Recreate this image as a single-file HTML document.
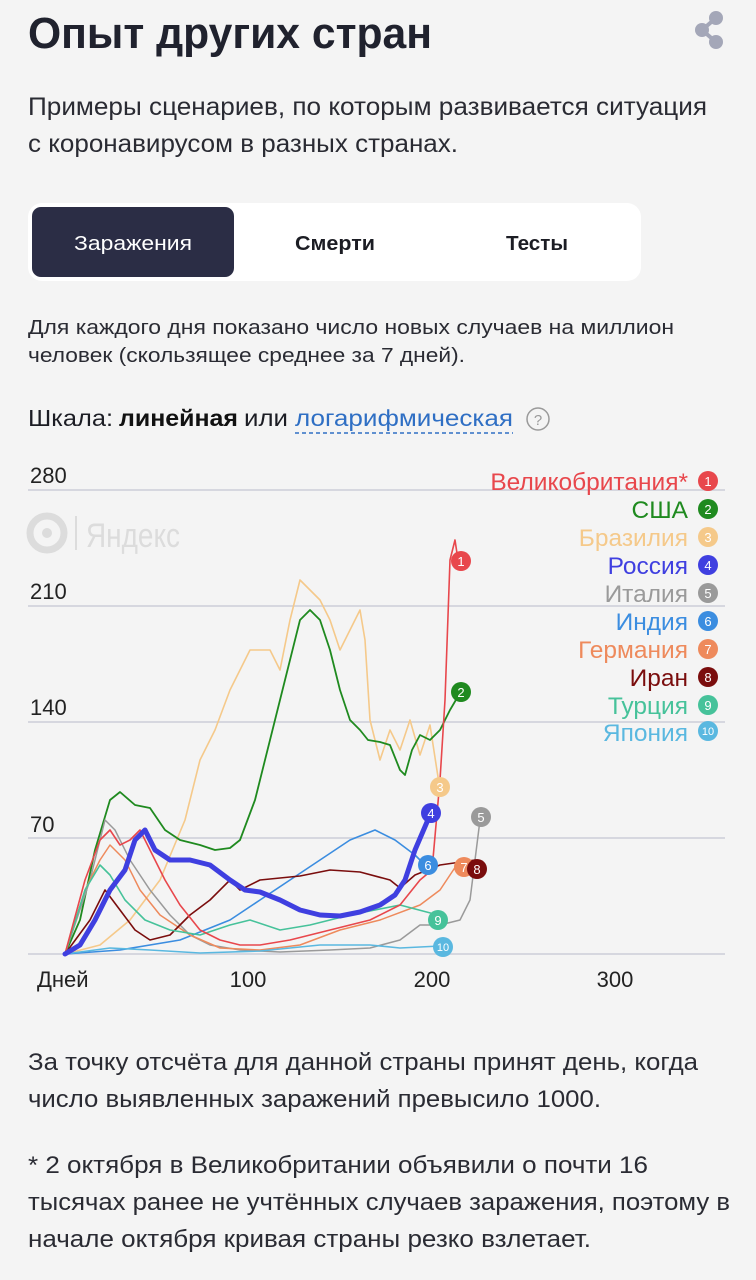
<!DOCTYPE html>
<html><head><meta charset="utf-8"><style>
html,body{margin:0;padding:0;background:#f4f4f4;}
svg{display:block;font-family:"Liberation Sans",sans-serif;}
</style></head><body>
<svg width="756" height="1280" viewBox="0 0 756 1280" xmlns="http://www.w3.org/2000/svg">
<rect width="756" height="1280" fill="#f4f4f4"/>
<text x="28" y="48" font-size="44" font-weight="bold" fill="#20222e" textLength="404" lengthAdjust="spacingAndGlyphs">Опыт других стран</text>
<g fill="#a4a7b8"><circle cx="716" cy="18" r="7"/><circle cx="702" cy="30" r="7"/><circle cx="716" cy="42" r="7"/></g>
<path d="M716 18 L702 30 L716 42" stroke="#a4a7b8" stroke-width="4" fill="none"/>
<g font-size="25" fill="#2a2b33">
<text x="28" y="115" textLength="679" lengthAdjust="spacingAndGlyphs">Примеры сценариев, по которым развивается ситуация</text>
<text x="28" y="152" textLength="430" lengthAdjust="spacingAndGlyphs">с коронавирусом в разных странах.</text>
</g>
<rect x="28" y="203" width="613" height="78" rx="14" fill="#fff"/>
<rect x="32" y="207" width="202" height="70" rx="9" fill="#2b2d45"/>
<g font-size="20" text-anchor="middle">
<text x="133" y="250" fill="#fff" textLength="118" lengthAdjust="spacingAndGlyphs">Заражения</text>
<text x="335" y="250" fill="#1c1d24" font-weight="bold" textLength="80" lengthAdjust="spacingAndGlyphs">Смерти</text>
<text x="537" y="250" fill="#1c1d24" font-weight="bold" textLength="62" lengthAdjust="spacingAndGlyphs">Тесты</text>
</g>
<g font-size="20" fill="#2a2b33">
<text x="28" y="334" textLength="646" lengthAdjust="spacingAndGlyphs">Для каждого дня показано число новых случаев на миллион</text>
<text x="28" y="362" textLength="437" lengthAdjust="spacingAndGlyphs">человек (скользящее среднее за 7 дней).</text>
</g>
<g font-size="23">
<text x="28" y="426" fill="#1c1d24" textLength="85" lengthAdjust="spacingAndGlyphs">Шкала:</text>
<text x="119" y="426" fill="#111" font-weight="bold" textLength="119" lengthAdjust="spacingAndGlyphs">линейная</text>
<text x="244" y="426" fill="#1c1d24" textLength="44" lengthAdjust="spacingAndGlyphs">или</text>
<text x="295" y="426" fill="#2f6fc4" textLength="218" lengthAdjust="spacingAndGlyphs">логарифмическая</text>
</g>
<line x1="295" y1="433" x2="513" y2="433" stroke="#2f6fc4" stroke-width="1.5" stroke-dasharray="4,3"/>
<circle cx="538" cy="419" r="11" fill="none" stroke="#9a9a9a" stroke-width="1.5"/>
<text x="538" y="425" font-size="15" fill="#9a9a9a" text-anchor="middle">?</text>

<g stroke="#d6d7df" stroke-width="2">
<line x1="28" y1="490" x2="725" y2="490"/><line x1="28" y1="606" x2="725" y2="606"/>
<line x1="28" y1="722" x2="725" y2="722"/><line x1="28" y1="838" x2="725" y2="838"/>
<line x1="28" y1="954" x2="725" y2="954"/>
</g>
<g font-size="22" fill="#222">
<text x="30" y="483">280</text><text x="30" y="599">210</text><text x="30" y="715">140</text><text x="30" y="832">70</text>
<text x="37" y="987">Дней</text>
<text x="248" y="987" text-anchor="middle">100</text><text x="432" y="987" text-anchor="middle">200</text><text x="615" y="987" text-anchor="middle">300</text>
</g>
<circle cx="47" cy="533" r="17" fill="none" stroke="#dcdcdc" stroke-width="7"/><circle cx="47" cy="533" r="5" fill="#dcdcdc"/>
<line x1="76" y1="516" x2="76" y2="550" stroke="#dcdcdc" stroke-width="2"/>
<text x="86" y="547" font-size="34" fill="#dcdcdc" textLength="94" lengthAdjust="spacingAndGlyphs">Яндекс</text>

<g fill="none" stroke-linejoin="round" stroke-linecap="round">
<polyline stroke="#f5c98a" stroke-width="1.6" points="65,954 100,945 130,920 160,880 185,820 200,760 215,730 230,690 250,650 270,650 280,670 290,620 300,580 310,590 320,600 330,620 340,650 345,640 355,620 360,610 365,640 370,720 380,760 390,730 400,750 410,720 420,755 430,725 440,790"/>
<polyline stroke="#1f8a1f" stroke-width="1.8" points="65,954 80,920 95,850 110,800 120,792 135,805 150,808 165,830 180,840 200,845 215,850 230,848 240,840 255,800 270,740 285,680 300,620 310,610 320,620 330,650 340,690 350,720 360,730 368,740 380,742 390,745 400,770 405,775 412,750 420,735 430,740 440,730 450,710 460,693"/>
<polyline stroke="#9a9a9a" stroke-width="1.5" points="65,954 90,880 105,820 115,830 130,860 150,890 170,915 190,935 210,945 240,950 280,952 330,950 370,948 400,940 420,925 440,925 460,920 470,900 480,820"/>
<polyline stroke="#3b8de0" stroke-width="1.6" points="65,954 120,950 180,940 230,920 260,900 290,880 320,860 350,840 375,830 395,840 415,855 425,865"/>
<polyline stroke="#ee8a5c" stroke-width="1.5" points="65,954 85,890 100,860 110,845 125,860 140,890 160,915 190,935 220,948 260,950 300,945 340,930 380,920 420,905 440,890 460,860"/>
<polyline stroke="#7a0d0d" stroke-width="1.6" points="65,954 90,920 105,890 120,910 135,930 150,940 170,935 190,915 210,900 230,880 240,890 260,880 300,876 330,870 360,872 390,880 400,888 415,875 440,865 475,860"/>
<polyline stroke="#46c29a" stroke-width="1.6" points="65,954 85,890 100,865 110,875 125,900 145,920 170,930 200,935 230,925 250,920 280,930 310,925 350,915 400,905 438,915"/>
<polyline stroke="#5ab8e0" stroke-width="1.6" points="65,954 110,948 150,950 200,953 260,951 320,945 370,945 400,948 440,946"/>
<polyline stroke="#e8474c" stroke-width="1.6" points="65,954 85,880 100,840 110,830 120,845 130,840 140,830 150,850 165,880 180,905 200,930 220,940 240,945 260,945 290,940 330,930 370,920 400,905 420,880 432,870 440,780 445,700 450,560 455,540 458,560"/>
<polyline stroke="#3f3fe0" stroke-width="5" points="65,954 80,945 95,920 110,890 125,870 135,840 145,830 155,850 170,860 190,860 210,865 230,880 245,890 260,892 280,900 300,910 320,915 340,916 360,912 380,905 395,895 405,880 415,850 430,815"/>
</g>
<g font-size="13" fill="#fff" text-anchor="middle">
<circle cx="461" cy="561" r="10" fill="#e8474c"/><text x="461" y="566">1</text>
<circle cx="461" cy="692" r="10" fill="#1f8a1f"/><text x="461" y="697">2</text>
<circle cx="440" cy="787" r="10" fill="#f5c98a"/><text x="440" y="792">3</text>
<circle cx="431" cy="813" r="10" fill="#3f3fe0"/><text x="431" y="818">4</text>
<circle cx="481" cy="817" r="10" fill="#9a9a9a"/><text x="481" y="822">5</text>
<circle cx="428" cy="865" r="10" fill="#3b8de0"/><text x="428" y="870">6</text>
<circle cx="464" cy="867" r="10" fill="#ee8a5c"/><text x="464" y="872">7</text>
<circle cx="477" cy="869" r="10" fill="#7a0d0d"/><text x="477" y="874">8</text>
<circle cx="438" cy="920" r="10" fill="#46c29a"/><text x="438" y="925">9</text>
<circle cx="443" cy="947" r="10" fill="#5ab8e0"/><text x="443" y="951" font-size="11">10</text>
</g>
<g font-size="24.5" text-anchor="end">
<text x="688" y="490" fill="#e8474c">Великобритания*</text>
<text x="688" y="518" fill="#1f8a1f">США</text>
<text x="688" y="546" fill="#f5c98a">Бразилия</text>
<text x="688" y="574" fill="#3f3fe0">Россия</text>
<text x="688" y="602" fill="#9a9a9a">Италия</text>
<text x="688" y="630" fill="#3b8de0">Индия</text>
<text x="688" y="658" fill="#ee8a5c">Германия</text>
<text x="688" y="686" fill="#7a0d0d">Иран</text>
<text x="688" y="714" fill="#46c29a">Турция</text>
<text x="688" y="741" fill="#5ab8e0">Япония</text>
</g>
<g font-size="13" fill="#fff" text-anchor="middle">
<circle cx="708" cy="481" r="10" fill="#e8474c"/><text x="708" y="486">1</text>
<circle cx="708" cy="509" r="10" fill="#1f8a1f"/><text x="708" y="514">2</text>
<circle cx="708" cy="537" r="10" fill="#f5c98a"/><text x="708" y="542">3</text>
<circle cx="708" cy="565" r="10" fill="#3f3fe0"/><text x="708" y="570">4</text>
<circle cx="708" cy="593" r="10" fill="#9a9a9a"/><text x="708" y="598">5</text>
<circle cx="708" cy="621" r="10" fill="#3b8de0"/><text x="708" y="626">6</text>
<circle cx="708" cy="649" r="10" fill="#ee8a5c"/><text x="708" y="654">7</text>
<circle cx="708" cy="677" r="10" fill="#7a0d0d"/><text x="708" y="682">8</text>
<circle cx="708" cy="705" r="10" fill="#46c29a"/><text x="708" y="710">9</text>
<circle cx="708" cy="731" r="10" fill="#5ab8e0"/><text x="708" y="735" font-size="11">10</text>
</g>
<g font-size="24" fill="#2a2b33">
<text x="28" y="1070" textLength="670" lengthAdjust="spacingAndGlyphs">За точку отсчёта для данной страны принят день, когда</text>
<text x="28" y="1107" textLength="573" lengthAdjust="spacingAndGlyphs">число выявленных заражений превысило 1000.</text>
<text x="28" y="1173" textLength="620" lengthAdjust="spacingAndGlyphs">* 2 октября в Великобритании объявили о почти 16</text>
<text x="28" y="1210" textLength="702" lengthAdjust="spacingAndGlyphs">тысячах ранее не учтённых случаев заражения, поэтому в</text>
<text x="28" y="1247" textLength="563" lengthAdjust="spacingAndGlyphs">начале октября кривая страны резко взлетает.</text>
</g>
</svg>
</body></html>
